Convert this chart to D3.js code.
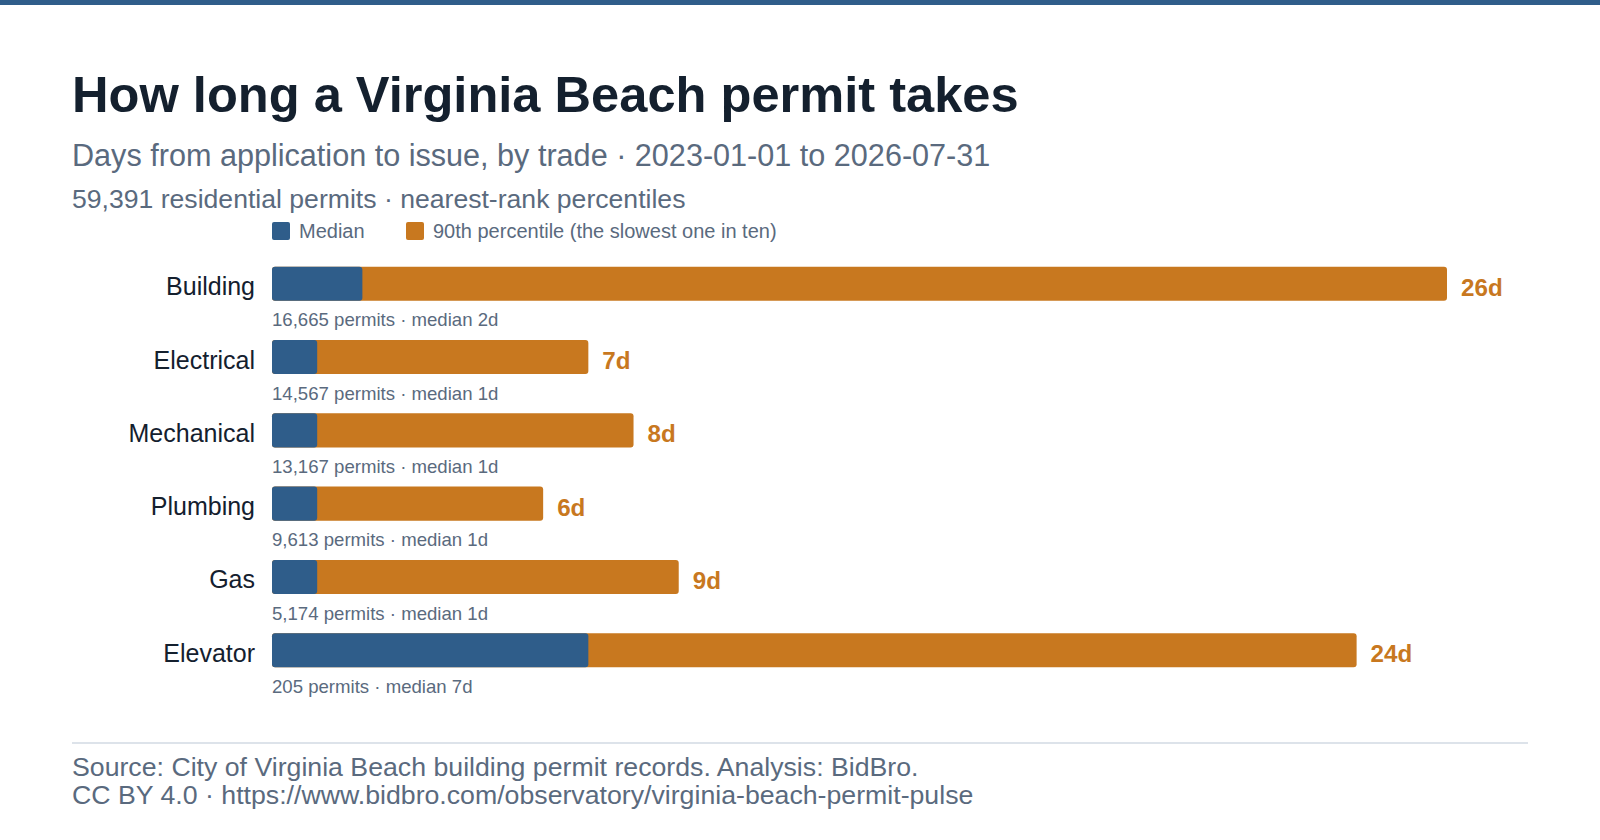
<!DOCTYPE html>
<html>
<head>
<meta charset="UTF-8">
<title>Virginia Beach permit times</title>
<script src="https://cdn.jsdelivr.net/npm/d3@7/dist/d3.min.js"></script>
<style>
  body { margin: 0; background: #fff; }
  svg { display: block; font-family: "Liberation Sans", Arial, sans-serif; }
</style>
</head>
<body>
<script>
// data
var trades = ["Building", "Electrical", "Mechanical", "Plumbing", "Gas", "Elevator"];
var medianDays = [2, 1, 1, 1, 1, 7];
var p90Days = [26, 7, 8, 6, 9, 24];
var permitCounts = [16665, 14567, 13167, 9613, 5174, 205];
var legendLabels = ["Median", "90th percentile (the slowest one in ten)"];

var w = 1600, h = 840;
var blue = "#2f5d8a", orange = "#c8781f";
var ink = "#14202e", grey = "#5a6a7e";

var rows = trades.map(function(t, i) {
  return { trade: t, median: medianDays[i], p90: p90Days[i], n: permitCounts[i] };
});

var svg = d3.select("body").append("svg")
    .attr("width", w)
    .attr("height", h);

svg.append("rect")
    .attr("x", 0).attr("y", 0)
    .attr("width", w).attr("height", 5)
    .attr("fill", blue);

svg.append("text")
    .attr("x", 72).attr("y", 112)
    .attr("font-size", 50.6).attr("font-weight", "bold")
    .attr("fill", ink)
    .text("How long a Virginia Beach permit takes");

svg.append("text")
    .attr("x", 72).attr("y", 166)
    .attr("font-size", 30.6)
    .attr("fill", grey)
    .text("Days from application to issue, by trade \u00b7 2023-01-01 to 2026-07-31");

svg.append("text")
    .attr("x", 72).attr("y", 208)
    .attr("font-size", 26.6)
    .attr("fill", grey)
    .text("59,391 residential permits \u00b7 nearest-rank percentiles");

// legend
var legend = svg.append("g").attr("transform", "translate(272,222)");
var legX = [0, 134];
legendLabels.forEach(function(lab, i) {
  var g = legend.append("g").attr("transform", "translate(" + legX[i] + ",0)");
  g.append("rect")
    .attr("width", 18).attr("height", 18).attr("rx", 2)
    .attr("fill", i === 0 ? blue : orange);
  g.append("text")
    .attr("x", 27).attr("y", 15.5)
    .attr("font-size", 20)
    .attr("fill", grey)
    .text(lab);
});

var x = d3.scaleLinear()
    .domain([0, 26])
    .range([272, 1447]);

var y = d3.scaleBand()
    .domain(trades)
    .range([247, 687])
    .paddingInner(0.535)
    .paddingOuter(0.268);

var bh = y.bandwidth();

var row = svg.selectAll("g.row")
    .data(rows)
    .enter()
    .append("g")
    .attr("class", "row")
    .attr("transform", function(d) { return "translate(0," + y(d.trade) + ")"; });

row.append("rect")
    .attr("x", x(0))
    .attr("width", function(d) { return x(d.p90) - x(0); })
    .attr("height", bh)
    .attr("rx", 3)
    .attr("fill", orange);

row.append("rect")
    .attr("x", x(0))
    .attr("width", function(d) { return x(d.median) - x(0); })
    .attr("height", bh)
    .attr("rx", 3)
    .attr("fill", blue);

row.append("text")
    .attr("x", 255)
    .attr("y", bh / 2 + 11.5)
    .attr("text-anchor", "end")
    .attr("font-size", 25)
    .attr("fill", ink)
    .text(function(d) { return d.trade; });

row.append("text")
    .attr("x", function(d) { return x(d.p90) + 14; })
    .attr("y", bh / 2 + 12)
    .attr("font-size", 24.2)
    .attr("font-weight", "bold")
    .attr("fill", orange)
    .text(function(d) { return d.p90 + "d"; });

row.append("text")
    .attr("x", x(0))
    .attr("y", bh + 25.5)
    .attr("font-size", 18.6)
    .attr("fill", grey)
    .text(function(d) { return d3.format(",")(d.n) + " permits \u00b7 median " + d.median + "d"; });

// footer
svg.append("line")
    .attr("x1", 72).attr("x2", 1528)
    .attr("y1", 743).attr("y2", 743)
    .attr("stroke", "#dde3ea")
    .attr("stroke-width", 2);

svg.append("text")
    .attr("x", 72).attr("y", 776)
    .attr("font-size", 26.7)
    .attr("fill", grey)
    .text("Source: City of Virginia Beach building permit records. Analysis: BidBro.");

svg.append("text")
    .attr("x", 72).attr("y", 804)
    .attr("font-size", 26.7)
    .attr("fill", grey)
    .text("CC BY 4.0 \u00b7 https://www.bidbro.com/observatory/virginia-beach-permit-pulse");
</script>
</body>
</html>
